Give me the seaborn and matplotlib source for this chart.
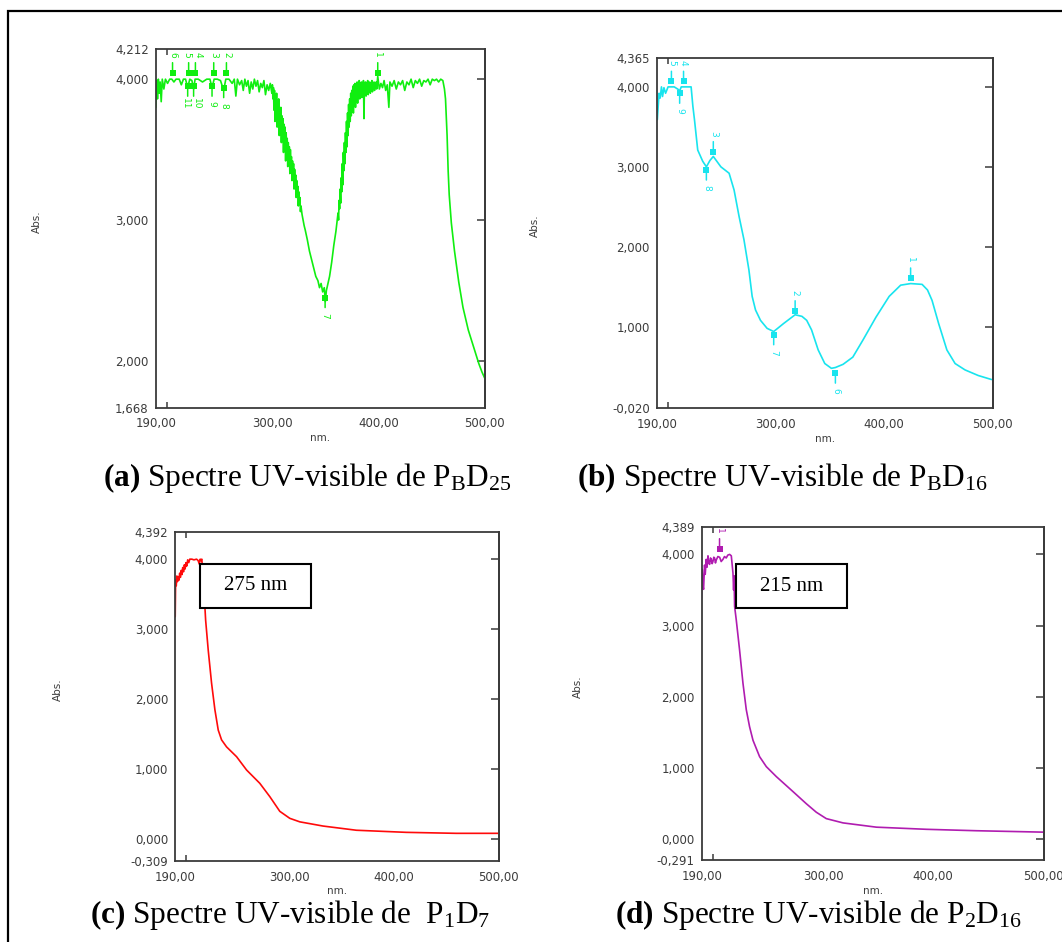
import matplotlib
matplotlib.use("Agg")
import matplotlib.pyplot as plt
from matplotlib.patches import Rectangle
from matplotlib.ticker import FixedLocator, FixedFormatter
import pandas as pd
import seaborn as sns

# ---------------- spectra (wavelength in nm, absorbance) ----------------
# (a) P_B D_25
wl_a = [190, 190.8, 191.5, 192.3, 193, 194, 195, 196, 197.5, 199, 201, 203, 205, 207, 209,
        212, 214, 216, 218, 220, 222, 224, 225.6, 227, 230, 234, 238, 241, 243, 245, 248,
        251, 254, 256, 259, 262, 264, 265.5, 267, 269, 271, 272.5, 274, 275.5, 277, 278.5,
        280, 281.5, 283, 284.5, 286, 287.5, 289, 290.5, 292, 293.5, 295, 296.5, 298, 299.5,
        300.0, 300.5, 301.0, 301.5, 302.0, 302.5, 303.0, 303.5, 304.0, 304.5, 305.0, 305.5,
        306.0, 306.5, 307.0, 307.5, 308.0, 308.5, 309.0, 309.5, 310.0, 310.5, 311.0, 311.5,
        312.0, 312.5, 313.0, 313.5, 314.0, 314.5, 315.0, 315.5, 316.0, 316.5, 317.0, 317.5,
        318.0, 318.5, 319.0, 319.5, 320.0, 320.5, 321.0, 321.5, 322.0, 322.5, 323.0, 323.5,
        324.0, 324.5, 325.0, 325.5, 326.0, 326.5, 327.0, 328.0, 329.0, 330.0,
        331, 333, 335, 337, 339, 341, 343, 344.5, 346, 347.5, 349, 350, 351, 352.5, 354, 356,
        358, 360,
        362.0, 362.5, 363.0, 363.5, 364.0, 364.5, 365.0, 365.5, 366.0, 366.5, 367.0, 367.5,
        368.0, 368.5, 369.0, 369.5, 370.0, 370.5, 371.0, 371.5, 372.0, 372.5, 373.0, 373.5,
        374.0, 374.5, 375.0, 375.5, 376.0, 376.5, 377.0, 377.5, 378.0, 378.5, 379.0, 379.5,
        380.0, 380.5, 381.0, 381.5, 382.0, 382.5, 383.0, 383.5, 384.0, 384.5, 385.0, 385.5,
        386.0, 386.5, 387.0, 387.5, 388.0, 388.5, 389.0, 389.5, 390.0, 390.5, 391.0, 391.5,
        392.0, 392.5, 393.0, 393.5, 394.0, 394.5, 395.0, 395.5, 396.0, 396.5, 397.0, 397.5,
        398.0, 398.5, 399.5,
        401, 402.5, 404, 405.5, 407, 408.5, 410, 411, 413, 415, 417, 419, 421, 423, 425, 427,
        429, 431, 433, 435, 437, 439, 441, 443, 445, 447, 449, 451, 453, 455, 457, 459, 461,
        462.5, 463.5, 465, 466, 467, 469, 472, 476, 480, 485, 490, 495, 498, 501]
abs_a = [3.80, 3.99, 3.86, 4.00, 3.90, 3.98, 3.84, 4.00, 3.93, 4.00, 3.97, 4.00, 4.00, 3.98, 4.00,
         4.00, 3.96, 4.00, 4.00, 3.94, 4.00, 3.99, 3.93, 4.00, 4.00, 3.98, 4.00, 4.00, 3.94, 4.00, 4.00,
         3.99, 3.92, 4.00, 4.00, 3.97, 4.00, 3.88, 4.00, 3.96, 3.99, 3.92, 4.00, 3.95, 3.99, 3.90,
         3.98, 3.93, 4.00, 3.95, 3.99, 3.91, 3.97, 3.94, 3.99, 3.89, 3.96, 3.92, 3.97, 3.90,
         3.96, 3.86, 3.94, 3.78, 3.92, 3.70, 3.88, 3.80, 3.90, 3.66, 3.84, 3.74,
         3.86, 3.60, 3.78, 3.68, 3.80, 3.55, 3.74, 3.62, 3.72, 3.48, 3.68, 3.56,
         3.66, 3.42, 3.62, 3.50, 3.58, 3.38, 3.55, 3.44, 3.52, 3.33, 3.50, 3.38,
         3.45, 3.28, 3.42, 3.32, 3.40, 3.22, 3.36, 3.25, 3.32, 3.16, 3.28, 3.18,
         3.24, 3.10, 3.20, 3.12, 3.16, 3.06, 3.10, 3.04, 3.00, 2.96,
         2.93, 2.86, 2.78, 2.72, 2.66, 2.60, 2.57, 2.52, 2.55, 2.49, 2.52, 2.42, 2.50, 2.55, 2.60, 2.70,
         2.82, 2.92,
         3.05, 3.00, 3.14, 3.08, 3.22, 3.12, 3.30, 3.20, 3.40, 3.25, 3.48, 3.35,
         3.55, 3.40, 3.62, 3.48, 3.70, 3.52, 3.76, 3.60, 3.82, 3.66, 3.86, 3.70,
         3.90, 3.74, 3.92, 3.78, 3.95, 3.76, 3.96, 3.82, 3.97, 3.80, 3.96, 3.85,
         3.98, 3.83, 3.97, 3.88, 3.99, 3.86, 3.97, 3.90, 3.98, 3.87, 3.96, 3.91,
         3.99, 3.72, 3.97, 3.90, 3.98, 3.88, 3.96, 3.92, 3.99, 3.89, 3.97, 3.93,
         3.98, 3.90, 3.96, 3.94, 3.99, 3.91, 3.97, 3.94, 3.98, 3.92, 3.97, 3.95,
         3.98, 3.93, 4.02,
         3.93, 3.97, 3.94, 3.99, 3.92, 3.96, 3.80, 3.98, 3.95, 3.99, 3.93, 3.98, 3.96, 3.99, 3.92, 3.98,
         3.96, 4.00, 3.94, 3.99, 3.97, 4.00, 3.95, 3.99, 3.98, 4.00, 3.96, 4.00, 3.99, 4.00, 3.98, 4.00, 3.99,
         3.93, 3.86, 3.60, 3.35, 3.18, 2.98, 2.78, 2.56, 2.38, 2.22, 2.10, 1.98, 1.92, 1.87]
peak_a_nm = [205.7, 220.9, 227.3, 244.6, 256.6, 399.5]
peak_a_abs = [4.046, 4.046, 4.046, 4.046, 4.046, 4.046]
peak_a_lbl = ["6", "5", "4", "3", "2", "1"]
valley_a_nm = [220.0, 225.6, 243.0, 254.0, 349.8]
valley_a_abs = [3.95, 3.95, 3.95, 3.94, 2.45]
valley_a_lbl = ["11", "10", "9", "8", "7"]

# (b) P_B D_16
wl_b = [190.4, 191.2, 192, 193, 194.2, 195.2, 196.5, 198, 200.3, 203.4, 206, 209.5, 211, 212.5,
        214.6, 218, 221.6, 223.2, 224.7, 227.7, 232.3, 235.7, 239, 242.1, 249.1, 256.7, 261.3,
        265.9, 270.4, 275, 278, 281.1, 285.7, 291.8, 297.9, 307, 317.7, 324, 328.4, 332.9, 339,
        345.1, 351.2, 354.9, 362, 371, 380.2, 392.4, 404.6, 415.2, 424.4, 435, 440, 444.2, 450.3,
        457.9, 465.5, 474.7, 486.9, 499.1]
abs_b = [3.59, 3.76, 3.92, 3.86, 4.00, 3.88, 3.99, 3.92, 4.00, 4.00, 4.00, 3.97, 3.95, 4.00,
         4.00, 4.00, 4.00, 3.76, 3.59, 3.21, 3.07, 3.00, 3.08, 3.13, 3.00, 2.92, 2.71,
         2.38, 2.09, 1.71, 1.38, 1.21, 1.08, 0.98, 0.94, 1.04, 1.15, 1.13, 1.08, 0.96, 0.71,
         0.54, 0.48, 0.49, 0.53, 0.62, 0.83, 1.12, 1.38, 1.52, 1.54, 1.53, 1.46, 1.33, 1.04,
         0.71, 0.54, 0.46, 0.39, 0.34]
peak_b_nm = [203.4, 214.6, 242.1, 317.7, 424.4]
peak_b_abs = [4.07, 4.07, 3.19, 1.20, 1.61]
peak_b_lbl = ["5", "4", "3", "2", "1"]
valley_b_nm = [211.0, 235.7, 297.9, 354.9]
valley_b_abs = [3.92, 2.96, 0.90, 0.42]
valley_b_lbl = ["9", "8", "7", "6"]

# (c) P_1 D_7
wl_c = [190, 190.4, 191, 191.6, 192.2, 193, 193.6, 194.3, 195, 195.8, 196.5, 197.2, 198, 198.8,
        199.5, 200.3, 201, 202, 203, 204, 206, 208, 210.5, 212, 213.1, 214, 214.7, 215.5, 216.9,
        219.2, 221.7, 224.9, 228.1, 231.3, 234.5, 239.3, 248.9, 258.5, 271.2, 280.8, 290.4,
        300, 309.6, 331.9, 363.9, 411.8, 459.7, 500.3]
abs_c = [3.18, 3.70, 3.62, 3.76, 3.68, 3.75, 3.70, 3.80, 3.74, 3.84, 3.78, 3.88, 3.82, 3.92,
         3.86, 3.95, 3.90, 3.99, 3.95, 4.00, 4.00, 3.99, 4.00, 3.98, 3.93, 4.00, 3.98, 4.00, 3.75,
         3.13, 2.70, 2.23, 1.85, 1.56, 1.42, 1.32, 1.18, 0.99, 0.80, 0.61, 0.40,
         0.30, 0.25, 0.19, 0.13, 0.10, 0.086, 0.086]

# (d) P_2 D_16
wl_d = [189.5, 190.3, 191, 191.5, 192, 192.4, 193, 193.9, 194.6, 195.5, 196.2, 197, 197.8, 198.5,
        199.3, 200, 200.8, 201.5, 202.3, 203, 204.5, 206.1, 207.5, 209.1, 210.5, 212.1, 213.5,
        215.2, 216.7, 218.2, 218.8, 219.2, 219.7, 221.2, 224.2, 227.3, 230.3, 233.3, 236.4,
        242.4, 248.5, 257.6, 272.7, 284.8, 293.9, 303, 318.2, 348.5, 393.9, 439.4, 500.6]
abs_d = [3.39, 3.79, 3.55, 3.51, 3.70, 3.85, 3.72, 3.93, 3.82, 3.98, 3.88, 3.86, 3.95, 3.93,
         3.87, 3.90, 3.96, 3.95, 3.88, 3.92, 3.97, 3.96, 3.90, 3.93, 3.97, 3.95, 3.99,
         4.00, 3.98, 3.74, 3.50, 3.70, 3.27, 3.08, 2.66, 2.19, 1.82, 1.58, 1.39,
         1.16, 1.02, 0.88, 0.67, 0.50, 0.38, 0.29, 0.23, 0.17, 0.14, 0.12, 0.10]
peak_d_nm = [206.0]
peak_d_abs = [4.08]
peak_d_lbl = ["1"]

# axis scales
x_label_nm = [190, 300, 400, 500]
x_mark_nm = [200, 300, 400, 500]
ylab_a = [1.668, 2, 3, 4, 4.212]
ylab_b = [-0.020, 1, 2, 3, 4, 4.365]
ylab_c = [-0.309, 0, 1, 2, 3, 4, 4.392]
ylab_d = [-0.291, 0, 1, 2, 3, 4, 4.389]

captions = [r"$\mathbf{(a)}$ Spectre UV-visible de P$_{\mathrm{B}}$D$_{25}$",
            r"$\mathbf{(b)}$ Spectre UV-visible de P$_{\mathrm{B}}$D$_{16}$",
            r"$\mathbf{(c)}$ Spectre UV-visible de  P$_{1}$D$_{7}$",
            r"$\mathbf{(d)}$ Spectre UV-visible de P$_{2}$D$_{16}$"]
box_c = "275 nm"
box_d = "215 nm"

# ---------------- figure ----------------
sns.set_style("white")
plt.rcParams["font.family"] = ["DejaVu Sans"]
plt.rcParams["mathtext.fontset"] = "custom"
plt.rcParams["mathtext.rm"] = "Liberation Serif"
plt.rcParams["mathtext.bf"] = "Liberation Serif:bold"
plt.rcParams["mathtext.it"] = "Liberation Serif:italic"

W, H = 1062, 942
fig = plt.figure(figsize=(W / 100, H / 100), dpi=100)
fig.patch.set_facecolor("white")

AX_COL = "#3a3a3a"
LBL_COL = "#3c3c3c"


def px_axes(l, t, r, b):
    return fig.add_axes([l / W, 1 - b / H, (r - l) / W, (b - t) / H])


def fmt(v, nd):
    return f"{v:.{nd}f}".replace(".", ",").replace("-0,000", "0,000")


def dress(ax, ylabs, ylim):
    ax.set_xlim(189.8, 500.8)
    ax.set_ylim(*ylim)
    ax.xaxis.set_major_locator(FixedLocator(x_label_nm))
    ax.xaxis.set_major_formatter(FixedFormatter([fmt(v, 2) for v in x_label_nm]))
    ax.xaxis.set_minor_locator(FixedLocator(x_mark_nm))
    ax.yaxis.set_major_locator(FixedLocator(ylabs))
    ax.yaxis.set_major_formatter(FixedFormatter([fmt(v, 3) for v in ylabs]))
    marks = [v for v in ylabs if abs(v - round(v)) < 1e-9]
    ax.yaxis.set_minor_locator(FixedLocator(marks))
    ax.tick_params(which="major", length=0, labelsize=8.5, labelcolor=LBL_COL,
                   bottom=True, left=True)
    ax.tick_params(axis="x", which="major", pad=7)
    ax.tick_params(axis="y", which="major", pad=5)
    ax.tick_params(axis="x", which="minor", direction="in", top=True, bottom=True,
                   length=4.5, width=1.1, color=AX_COL)
    ax.tick_params(axis="y", which="minor", direction="inout", left=True, right=False,
                   length=8, width=1.1, color=AX_COL)
    sec = ax.secondary_yaxis("right")
    sec.yaxis.set_major_locator(FixedLocator(marks))
    sec.tick_params(axis="y", direction="in", length=6, width=1.1, color=AX_COL,
                    labelright=False, right=True)
    for s in sec.spines.values():
        s.set_color(AX_COL)
        s.set_linewidth(1.3)
    for s in ax.spines.values():
        s.set_color(AX_COL)
        s.set_linewidth(1.3)
    ax.set_xlabel("nm.", fontsize=7.5, color=LBL_COL, labelpad=2)
    ax.set_ylabel("Abs.", fontsize=7.5, color=LBL_COL)
    ax.yaxis.set_label_coords(-0.347, 0.52)


def curve(ax, wl, ab, color):
    df = pd.DataFrame({"nm": wl, "Abs": ab})
    sns.lineplot(data=df, x="nm", y="Abs", ax=ax, color=color, lw=1.2,
                 sort=False, estimator=None)


def picks(ax, xs, ys, labels, color, up, nudge=None):
    """Peak-pick markers: square, short stem and a rotated index label."""
    nudge = nudge or {}
    sign = 1 if up else -1
    for x, y, t in zip(xs, ys, labels):
        ax.annotate("", xy=(x, y), xytext=(0, sign * 10), textcoords="offset pixels",
                    arrowprops=dict(arrowstyle="-", color=color, lw=1.1,
                                    shrinkA=0, shrinkB=0))
        ax.annotate(t, xy=(x, y), xytext=(nudge.get(t, 0), sign * 18),
                    textcoords="offset pixels", rotation=-90, ha="center", va="center",
                    color=color, fontsize=6.5)
    sns.scatterplot(x=xs, y=ys, ax=ax, marker="s", s=14, color=color,
                    linewidth=0, zorder=4)


def note(x0, y0, x1, y1, txt):
    fig.add_artist(Rectangle((x0 / W, 1 - y1 / H), (x1 - x0) / W, (y1 - y0) / H,
                             transform=fig.transFigure, fc="white", ec="black",
                             lw=1.5, zorder=5))
    fig.text((x0 + x1) / 2 / W, 1 - (y0 + y1) / 2 / H, txt, ha="center", va="center",
             fontsize=15, family="Liberation Serif", color="black", zorder=6)


GREEN, CYAN, RED, PURPLE = "#10ee10", "#18e4ee", "#ff0a0a", "#b01cb0"

ax_a = px_axes(155.7, 49.3, 485, 407.7)
curve(ax_a, wl_a, abs_a, GREEN)
picks(ax_a, peak_a_nm, peak_a_abs, peak_a_lbl, GREEN, True, {"5": -2.3, "4": 2.3})
picks(ax_a, valley_a_nm, valley_a_abs, valley_a_lbl, GREEN, False, {"11": -2.6, "10": 2.6})
dress(ax_a, ylab_a, (1.668, 4.212))

ax_b = px_axes(656.7, 57.7, 993.3, 408.3)
curve(ax_b, wl_b, abs_b, CYAN)
picks(ax_b, peak_b_nm, peak_b_abs, peak_b_lbl, CYAN, True)
picks(ax_b, valley_b_nm, valley_b_abs, valley_b_lbl, CYAN, False)
dress(ax_b, ylab_b, (-0.020, 4.365))

ax_c = px_axes(175, 531.7, 499, 861)
curve(ax_c, wl_c, abs_c, RED)
dress(ax_c, ylab_c, (-0.309, 4.392))

ax_d = px_axes(701.7, 526.7, 1044, 860)
curve(ax_d, wl_d, abs_d, PURPLE)
picks(ax_d, peak_d_nm, peak_d_abs, peak_d_lbl, PURPLE, True)
dress(ax_d, ylab_d, (-0.291, 4.389))

note(200, 564, 311, 608, box_c)
note(735.7, 564.3, 846.7, 608, box_d)

cap_pos = [(102.7, 478), (576.7, 478), (90, 915), (615, 915)]
for (cx, cy), txt in zip(cap_pos, captions):
    fig.text(cx / W, 1 - cy / H, txt, fontsize=22.5, family="Liberation Serif",
             color="black", ha="left", va="center")

# outer frame (runs off the right and bottom edges)
fig.add_artist(Rectangle((8 / W, -0.05), 1.2, 1 - 11 / H + 0.05, transform=fig.transFigure,
                         fill=False, ec="black", lw=1.6, zorder=7, clip_on=False))

fig.savefig("out.png", dpi=100)
